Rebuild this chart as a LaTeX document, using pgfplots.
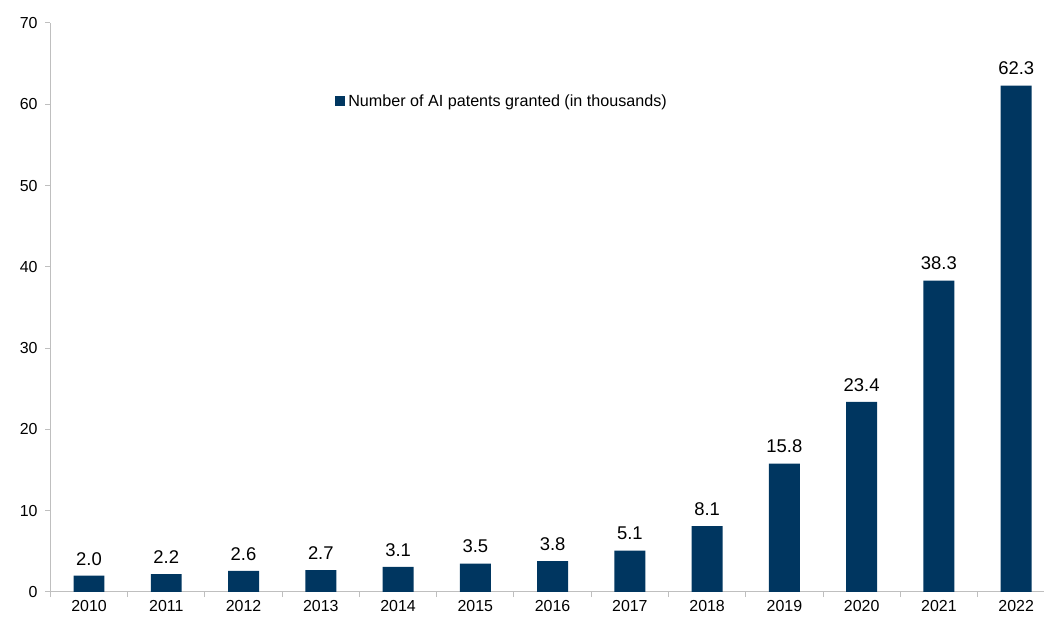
\documentclass[border=0pt]{standalone}
\usepackage{pgfplots}
\pgfplotsset{compat=1.18}
\usepackage{fontspec}
\setmainfont{Liberation Sans}
\definecolor{navy}{RGB}{0,54,96}
\definecolor{axgray}{RGB}{191,191,191}
\begin{document}
\begin{tikzpicture}[x=1bp,y=1bp]
\begin{axis}[
  scale only axis,
  width=994bp, height=569bp,
  ymin=0, ymax=70,
  xmin=-0.505, xmax=12.36,
  ytick={0,10,...,70},
  xtick={0,...,12},
  xticklabels={2010,2011,2012,2013,2014,2015,2016,2017,2018,2019,2020,2021,2022},
  minor xtick={-0.5,0.5,...,11.5},
  axis lines=left,
  axis line style={-, axgray, line width=1bp},
  tick style={axgray, line width=1bp},
  tick align=outside,
  major tick length=5bp,
  minor tick length=5bp,
  x tick style={draw=none},
  minor x tick style={draw=axgray, line width=1bp},
  ticklabel style={font=\fontsize{16}{17}\selectfont, text=black},
  /pgf/number format/assume math mode=true,
  xticklabel style={yshift=-2.5bp, inner ysep=1bp},
  yticklabel style={xshift=-4bp},
  ybar, bar width=0.4,
  nodes near coords,
  every node near coord/.append style={font=\fontsize{18.5}{20}\selectfont, text=black,
     /pgf/number format/fixed, /pgf/number format/precision=1, /pgf/number format/fixed zerofill, yshift=7bp},
  legend style={draw=none, fill=none, at={(0.287,0.863)}, anchor=west, font=\fontsize{16.2}{17}\selectfont, inner sep=0pt,
     /tikz/every even column/.append style={column sep=0pt}},
  legend image code/.code={\fill[navy] (0bp,-4.6bp) rectangle (9.3bp,4.6bp);},
  clip=false,
]
\addplot[fill=navy, draw=none] coordinates {
(0,2.0) (1,2.2) (2,2.6) (3,2.7) (4,3.1) (5,3.5) (6,3.8) (7,5.1) (8,8.1) (9,15.8) (10,23.4) (11,38.3) (12,62.3)};
\addlegendentry{\hspace{1.5bp}Number of AI patents granted (in thousands)}
\end{axis}
\pgfresetboundingbox
\path ([xshift=-50bp,yshift=-25bp]current axis.south west) rectangle ([yshift=23bp]current axis.north east);
\end{tikzpicture}
\end{document}
